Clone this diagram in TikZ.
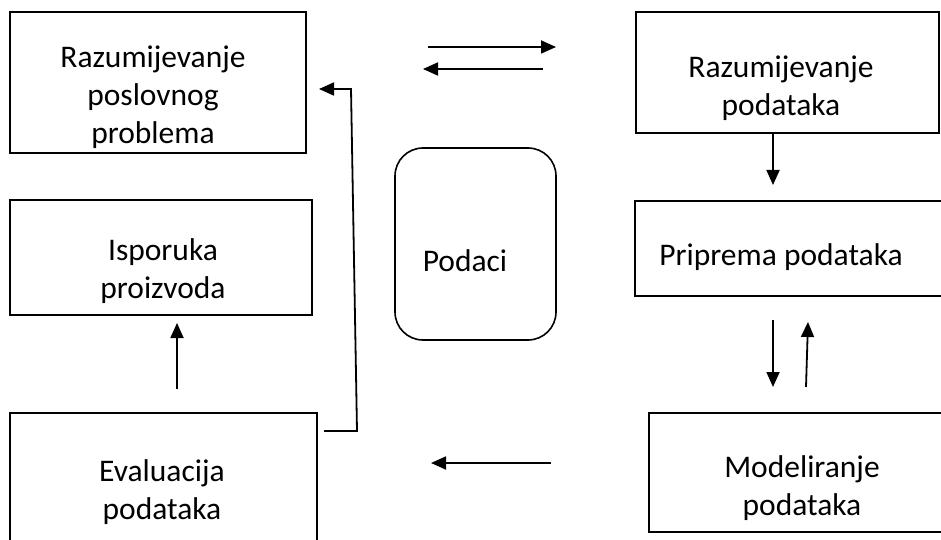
\documentclass[tikz,border=0pt]{standalone}
\usepackage{fontspec}
\setmainfont{Carlito}
\usetikzlibrary{arrows.meta}
\begin{document}
\begin{tikzpicture}[x=1pt,y=-1pt,
  boxline/.style={draw=black,line width=1.6pt},
  lbl/.style={inner sep=0pt,align=center,font=\fontsize{31.5}{38}\selectfont},
  conn/.style={line width=1.8pt,-{Triangle[length=15pt,width=13pt]}}]
\useasboundingbox (0,0) rectangle (941,540);
\clip (0,0) rectangle (941,540);
% boxes
\draw[boxline] (10,12) rectangle (306,153);
\draw[boxline] (636,12) rectangle (939,133);
\draw[boxline] (10,200) rectangle (312,315);
\draw[boxline,rounded corners=28pt] (395,148) rectangle (556,340);
\draw[boxline] (635,201) rectangle (960,296);
\draw[boxline] (649,413) rectangle (960,532);
\draw[boxline] (10,413) rectangle (317,560);
% labels
\node[lbl] (A) at (153,97) {Razumijevanje\\poslovnog\\problema};
\node[lbl] (B) at (781,88) {Razumijevanje\\podataka};
\node[lbl] (I) at (163,271) {Isporuka\\proizvoda};
\node[lbl] (P) at (465,261) {Podaci};
\node[lbl] (R) at (781,257) {Priprema podataka};
\node[lbl] (M) at (802,488.5) {Modeliranje\\podataka};
\node[lbl] (E) at (162,492) {Evaluacija\\podataka};
% connector end points
\coordinate (t1s) at (428,47);  \coordinate (t1e) at (556,47);
\coordinate (t2s) at (543,69);  \coordinate (t2e) at (423,69);
\coordinate (bds) at (773,133); \coordinate (bde) at (773,185);
\coordinate (pds) at (773,320); \coordinate (pde) at (773,387);
\coordinate (mus) at (806,387); \coordinate (mue) at (808,322);
\coordinate (mls) at (551,463); \coordinate (mle) at (431,463);
\coordinate (ius) at (177,389); \coordinate (iue) at (177,323);
\coordinate (es)  at (324,431); \coordinate (e1) at (357,431);
\coordinate (e2)  at (351,89);  \coordinate (ee) at (319,89);
% connectors
\draw[conn] (t1s) -- (t1e);
\draw[conn] (t2s) -- (t2e);
\draw[conn] (bds) -- (bde);
\draw[conn] (pds) -- (pde);
\draw[conn] (mus) -- (mue);
\draw[conn] (mls) -- (mle);
\draw[conn] (ius) -- (iue);
\draw[conn] (es) -- (e1) -- (e2) -- (ee);
\end{tikzpicture}
\end{document}
